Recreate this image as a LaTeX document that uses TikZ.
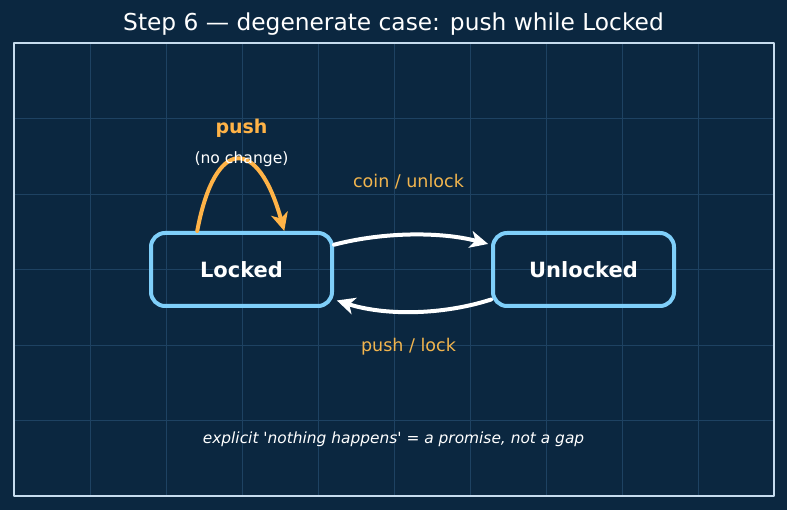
\documentclass[tikz,border=0pt]{standalone}
\usepackage{fontspec}
\setmainfont{DejaVu Sans}
\usetikzlibrary{arrows.meta}
\definecolor{bgnavy}{HTML}{0B2740}
\definecolor{gridcol}{HTML}{1E4262}
\definecolor{framecol}{HTML}{C6DCEE}
\definecolor{boxblue}{HTML}{7FCFFA}
\definecolor{loopor}{HTML}{FFB347}
\definecolor{labelor}{HTML}{F2B54E}
\tikzset{
  state/.style={draw=boxblue, line width=4pt, rounded corners=14pt, minimum width=181pt,
    minimum height=73pt, text=white, font=\bfseries\fontsize{21}{24}\selectfont},
  trans/.style={draw=white, line width=4pt, shorten >=3pt, -{Stealth[length=18pt,width=17pt,inset=5pt]}},
  selfloop/.style={draw=loopor, line width=4pt, -{Stealth[length=18pt,width=17pt,inset=5pt]}},
  translabel/.style={text=labelor, font=\fontsize{17.5}{20}\selectfont},
}
\begin{document}
\begin{tikzpicture}[x=1pt, y=-1pt, line cap=round, line join=round]
    \def\fx{14}
    \def\fy{43}
    \fill[bgnavy] (0,0) rectangle (787,510);
    % grid
    \foreach \i in {1,...,9}
      \draw[gridcol, line width=0.8pt] (\fx+76*\i,\fy) -- (\fx+76*\i,496);
    \foreach \j in {1,...,5}
      \draw[gridcol, line width=0.8pt] (\fx,\fy+75.5*\j) -- (774,\fy+75.5*\j);
    \draw[framecol, line width=2pt, line cap=butt] (\fx,\fy) rectangle (774,496);
    \node[text=white, font=\fontsize{23.3}{26}\selectfont] (title) at (393.5,24) {Step 6 — degenerate case: push while Locked};
    % states
    \node[state] (locked) at (241.5,269.5) {Locked};
    \node[state] (unlocked) at (583.5,269.5) {Unlocked};
    % transitions
    \draw[trans] (locked.15) .. controls +(50,-13) and +(-50,-13) .. (unlocked.165);
    \draw[trans] (unlocked.198) .. controls +(-50,16) and +(50,16) .. (locked.-18);
    \node[translabel] (coin) at (408.5,182) {coin / unlock};
    \node[translabel] (pushlock) at (408.5,347) {push / lock};
    % self loop
    \draw[selfloop] (locked.139) .. controls +(18,-96) and +(-26,-94) .. (locked.42);
    \node[text=loopor, font=\bfseries\fontsize{19}{22}\selectfont] (push) at (241.5,128) {push};
    \node[text=white, font=\fontsize{15.6}{18}\selectfont] (nochange) at (241.5,159) {(no change)};
    \node[text=white, font=\itshape\fontsize{15.4}{18}\selectfont] (note) at (393.5,439) {explicit \textquotesingle nothing happens\textquotesingle{} = a promise, not a gap};
  \end{tikzpicture}
\end{document}
